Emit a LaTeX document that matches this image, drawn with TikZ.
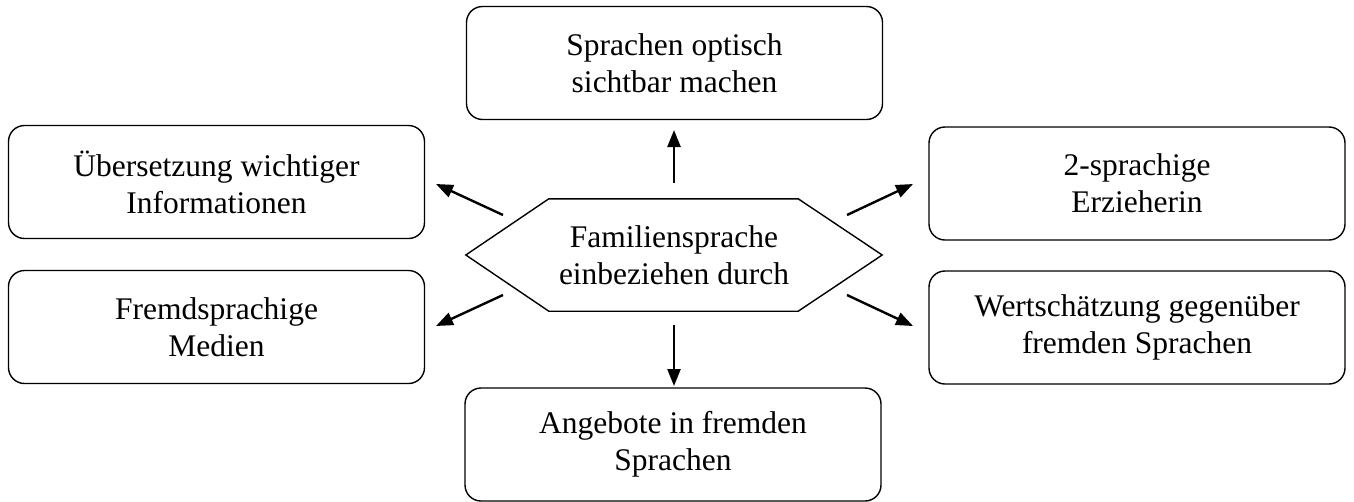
\documentclass[tikz,border=0pt]{standalone}
\usepackage{fontspec}
\setmainfont{Liberation Serif}
\usetikzlibrary{arrows.meta}
\begin{document}
\begin{tikzpicture}[x=1pt,y=-1pt,
  txt/.style={align=center,font=\fontsize{31.5}{37}\selectfont},
  box/.style={txt,draw,line width=1.4pt,rounded corners=16pt,
              minimum width=416pt,minimum height=113pt,inner sep=0pt},
  hexline/.style={line width=1.4pt,line join=miter},
  link/.style={line width=2.4pt,-{Triangle[length=17pt,width=13pt]}}]
\useasboundingbox (0,0) rectangle (1354,501);

% centre: hexagon with its label
\node[txt,minimum width=416pt,minimum height=112pt,inner sep=0pt] (hex) at (674,255)
  {Familiensprache\\einbeziehen durch};
\draw[hexline] (hex.west) -- ([xshift=83pt]hex.north west) -- ([xshift=-84pt]hex.north east)
  -- (hex.east) -- ([xshift=-84pt]hex.south east) -- ([xshift=83pt]hex.south west) -- cycle;

% surrounding boxes
\node[box] (top)  at (674.5,63)   {Sprachen optisch\\sichtbar machen};
\node[box] (bot)  at (673,444.5)  {Angebote in fremden\\Sprachen};
\node[box] (ul)   at (216.5,182)  {Übersetzung wichtiger\\Informationen};
\node[box] (ll)   at (216.5,327)  {Fremdsprachige\\Medien};
\node[box] (ur)   at (1137,183.5) {2-sprachige\\Erzieherin};
\node[box] (lr)   at (1137,327.5) {Wertschätzung gegenüber\\fremden Sprachen};

% arrow end points (arrows float between hexagon and boxes)
\coordinate (upS) at (674,183);  \coordinate (upE) at (674,130);
\coordinate (dnS) at (674,325);  \coordinate (dnE) at (674,386);
\coordinate (ulS) at (503,215);  \coordinate (ulE) at (436,184);
\coordinate (urS) at (847,215);  \coordinate (urE) at (913,184);
\coordinate (llS) at (503,295);  \coordinate (llE) at (436,326);
\coordinate (lrS) at (847,295);  \coordinate (lrE) at (913,326);

\draw[link] (upS) -- (upE);
\draw[link] (dnS) -- (dnE);
\draw[link] (ulS) -- (ulE);
\draw[link] (urS) -- (urE);
\draw[link] (llS) -- (llE);
\draw[link] (lrS) -- (lrE);
\end{tikzpicture}
\end{document}
